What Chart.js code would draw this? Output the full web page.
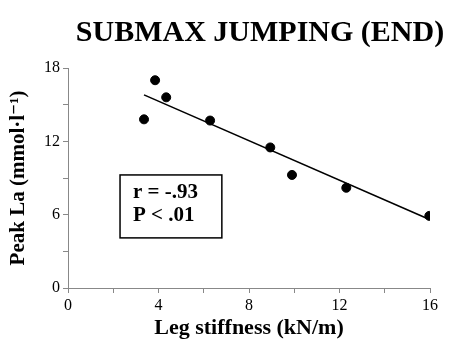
<!DOCTYPE html>
<html><head><meta charset="utf-8">
<script src="https://cdn.jsdelivr.net/npm/chart.js@4/dist/chart.umd.min.js"></script>
<style>html,body{margin:0;padding:0;background:#fff}#w{width:453px;height:342px}</style>
</head><body><div id="w"><canvas id="c"></canvas></div>
<script>
const stiffness = [3.36, 3.85, 4.34, 6.28, 8.94, 9.9, 12.3, 15.97];
const peakLa = [13.8, 17.0, 15.6, 13.7, 11.5, 9.25, 8.2, 5.9];
const fitX = [3.36, 15.93];
const fitY = [15.8, 5.65];
const statsText = ["r = -.93", "P < .01"];
const statsBox = {x0: 2.3, x1: 6.8, y0: 4.1, y1: 9.25};
const titleText = "SUBMAX JUMPING (END)";
const xTitle = "Leg stiffness (kN/m)";
const yTitle = "Peak La (mmol\u00b7l\u207b\u00b9)";

const serif = "'Liberation Serif','DejaVu Serif',serif";
const boxPlugin = {
  id: 'statsBox',
  afterDatasetsDraw(chart) {
    const {ctx, scales: {x, y}} = chart;
    const l = x.getPixelForValue(statsBox.x0), r = x.getPixelForValue(statsBox.x1);
    const t = y.getPixelForValue(statsBox.y1), b = y.getPixelForValue(statsBox.y0);
    ctx.save();
    ctx.strokeStyle = '#000'; ctx.lineWidth = 1.5;
    ctx.strokeRect(l, t, r - l, b - t);
    ctx.fillStyle = '#000';
    ctx.font = "bold 21px " + serif;
    ctx.textBaseline = 'middle';
    ctx.fillText(statsText[0], l + 13, t + (b - t) * 0.28);
    ctx.fillText(statsText[1], l + 13, t + (b - t) * 0.64);
    ctx.restore();
  }
};
const titlePlugin = {
  id: 'topTitle',
  afterDraw(chart) {
    const ctx = chart.ctx;
    ctx.save();
    ctx.fillStyle = '#000';
    ctx.font = "bold 30px " + serif;
    ctx.textAlign = 'center';
    ctx.textBaseline = 'middle';
    ctx.fillText(titleText, chart.width * 0.574, 33);
    ctx.restore();
  }
};

new Chart(document.getElementById('c'), {
  type: 'scatter',
  data: {
    datasets: [
      {data: stiffness.map((v, i) => ({x: v, y: peakLa[i]})), backgroundColor: '#000', borderColor: '#000', pointRadius: 4.5, pointHoverRadius: 4.5},
      {type: 'line', data: fitX.map((v, i) => ({x: v, y: fitY[i]})), borderColor: '#000', borderWidth: 1.6, pointRadius: 0, fill: false}
    ]
  },
  options: {
    responsive: true, maintainAspectRatio: false, animation: false,
    layout: {padding: {left: 0, right: 23, top: 68, bottom: 0}},
    plugins: {legend: {display: false}, tooltip: {enabled: false}, title: {display: false}},
    scales: {
      x: {
        type: 'linear', min: 0, max: 16,
        afterFit: s => { s.height = 54; },
        ticks: {stepSize: 2, color: '#000', font: {family: serif, size: 16}, padding: 3, maxRotation: 0,
          callback: v => (v % 4 === 0 ? String(v) : '')},
        grid: {drawOnChartArea: false, drawTicks: true, tickLength: 5, color: '#888'},
        border: {color: '#888', width: 1},
        title: {display: true, text: xTitle, color: '#000', font: {family: serif, size: 22, weight: 'bold'}, padding: {top: 0, bottom: 0}}
      },
      y: {
        min: 0, max: 18,
        afterFit: s => { s.width = 68; },
        ticks: {stepSize: 3, color: '#000', font: {family: serif, size: 16}, padding: 3,
          callback: v => (v % 6 === 0 ? String(v) : '')},
        grid: {drawOnChartArea: false, drawTicks: true, tickLength: 5, color: '#888'},
        border: {color: '#888', width: 1},
        title: {display: true, text: yTitle, color: '#000', font: {family: serif, size: 21, weight: 'bold'}, padding: {top: 6, bottom: 0}}
      }
    }
  },
  plugins: [boxPlugin, titlePlugin]
});
</script></body></html>
